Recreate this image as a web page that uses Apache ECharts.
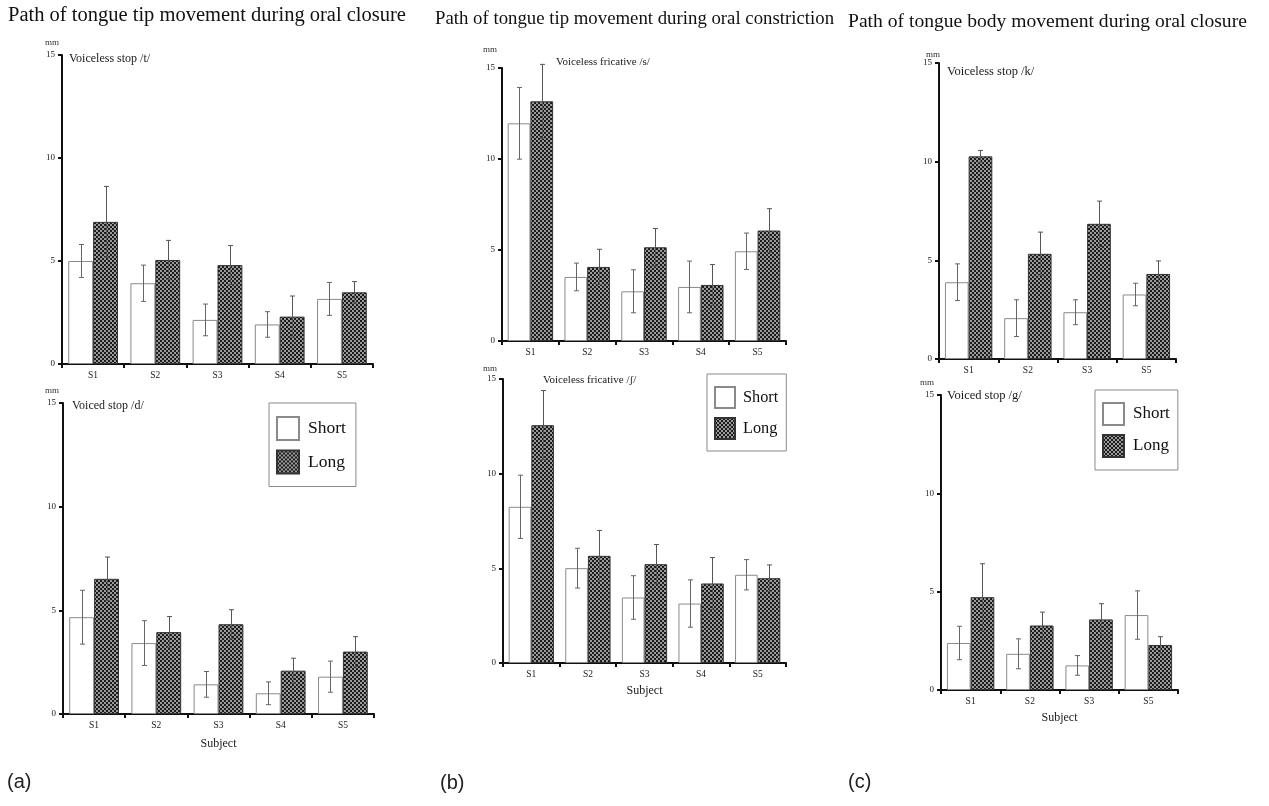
<!DOCTYPE html>
<html><head><meta charset="utf-8">
<script src="https://cdn.jsdelivr.net/npm/echarts@6/dist/echarts.min.js"></script>
<style>html,body{margin:0;padding:0;background:#fff}#c{width:1269px;height:806px}</style>
</head><body><div id="c"></div>
<script>
// ---- categories ----
const subjectsAB = ['S1', 'S2', 'S3', 'S4', 'S5'];
const subjectsC = ['S1', 'S2', 'S3', 'S5'];
const yTicks = [0, 5, 10, 15];

// ---- (a) top: voiceless stop /t/ ----
const tShort = [5.0, 3.92, 2.14, 1.92, 3.16];
const tShortErr = [0.8, 0.88, 0.77, 0.62, 0.8];
const tLong = [6.9, 5.05, 4.8, 2.3, 3.48];
const tLongErr = [1.72, 0.95, 0.95, 1.0, 0.52];
// ---- (a) bottom: voiced stop /d/ ----
const dShort = [4.67, 3.42, 1.43, 1.0, 1.8];
const dShortErr = [1.3, 1.08, 0.62, 0.55, 0.75];
const dLong = [6.52, 3.95, 4.33, 2.09, 3.01];
const dLongErr = [1.05, 0.75, 0.7, 0.6, 0.72];
// ---- (b) top: voiceless fricative /s/ ----
const sShort = [11.96, 3.52, 2.73, 2.97, 4.93];
const sShortErr = [1.97, 0.76, 1.18, 1.42, 1.0];
const sLong = [13.17, 4.07, 5.15, 3.08, 6.07];
const sLongErr = [2.03, 0.97, 1.03, 1.12, 1.2];
// ---- (b) bottom: voiceless fricative /ʃ/ ----
const shShort = [8.25, 5.01, 3.46, 3.14, 4.66];
const shShortErr = [1.67, 1.05, 1.15, 1.25, 0.8];
const shLong = [12.56, 5.66, 5.22, 4.2, 4.48];
const shLongErr = [1.83, 1.34, 1.04, 1.37, 0.7];
// ---- (c) top: voiceless stop /k/ ----
const kShort = [3.89, 2.07, 2.37, 3.27];
const kShortErr = [0.93, 0.93, 0.63, 0.57];
const kLong = [10.27, 5.33, 6.85, 4.31];
const kLongErr = [0.3, 1.1, 1.15, 0.66];
// ---- (c) bottom: voiced stop /g/ ----
const gShort = [2.39, 1.84, 1.25, 3.81];
const gShortErr = [0.85, 0.76, 0.5, 1.23];
const gLong = [4.72, 3.28, 3.59, 2.29];
const gLongErr = [1.7, 0.68, 0.8, 0.42];

const panelTitles = ['Path of tongue tip movement during oral closure',
  'Path of tongue tip movement during oral constriction',
  'Path of tongue body movement during oral closure'];
const subTitles = ['Voiceless stop /t/', 'Voiced stop /d/', 'Voiceless fricative /s/',
  'Voiceless fricative /ʃ/', 'Voiceless stop /k/', 'Voiced stop /g/'];
const panelLetters = ['(a)', '(b)', '(c)'];

const SERIF = 'Liberation Serif, Times New Roman, serif';
const chart = echarts.init(document.getElementById('c'));

// checkered fill for "Long"
const pc = document.createElement('canvas'); pc.width = 4; pc.height = 4;
const px = pc.getContext('2d');
px.fillStyle = '#9a9a9a'; px.fillRect(0, 0, 4, 4);
px.fillStyle = '#1c1c1c'; px.fillRect(0, 0, 2, 2); px.fillRect(2, 2, 2, 2);
const pattern = { image: pc, repeat: 'repeat' };

const panels = [
  { grid: { left: 62, top: 55, width: 311, height: 309 }, cats: subjectsAB, s: tShort, se: tShortErr, l: tLong, le: tLongErr, sub: subTitles[0], subPos: [69, 60], subSize: 12, mm: [52, 43], xName: '' },
  { grid: { left: 63, top: 403, width: 311, height: 311 }, cats: subjectsAB, s: dShort, se: dShortErr, l: dLong, le: dLongErr, sub: subTitles[1], subPos: [72, 407], subSize: 12, mm: [52, 391], xName: 'Subject', gap: 24 },
  { grid: { left: 502, top: 68, width: 284, height: 273 }, cats: subjectsAB, s: sShort, se: sShortErr, l: sLong, le: sLongErr, sub: subTitles[2], subPos: [556, 63], subSize: 11, mm: [490, 50], xName: '' },
  { grid: { left: 503, top: 379, width: 283, height: 284 }, cats: subjectsAB, s: shShort, se: shShortErr, l: shLong, le: shLongErr, sub: subTitles[3], subPos: [543, 381], subSize: 11, mm: [490, 369], xName: 'Subject', gap: 22 },
  { grid: { left: 939, top: 63, width: 237, height: 296 }, cats: subjectsC, s: kShort, se: kShortErr, l: kLong, le: kLongErr, sub: subTitles[4], subPos: [947, 73], subSize: 12.5, mm: [933, 55], xName: '' },
  { grid: { left: 941, top: 395, width: 237, height: 295 }, cats: subjectsC, s: gShort, se: gShortErr, l: gLong, le: gLongErr, sub: subTitles[5], subPos: [947, 397], subSize: 12.5, mm: [927, 383], xName: 'Subject', gap: 22 }
];

function errRender(offset, color) {
  return function (params, api) {
    const i = api.value(0), v = api.value(1), e = api.value(2);
    const c = api.coord([i, v]);
    const bw = api.size([1, 0])[0];
    const x = Math.round(c[0] + offset * bw) + 0.5;
    const yt = api.coord([i, v + e])[1], yb = api.coord([i, v - e])[1];
    const cap = 2.5;
    const style = { stroke: color, lineWidth: 1 };
    return { type: 'group', children: [
      { type: 'line', shape: { x1: x, y1: yt, x2: x, y2: yb }, style },
      { type: 'line', shape: { x1: x - cap, y1: yt, x2: x + cap, y2: yt }, style },
      { type: 'line', shape: { x1: x - cap, y1: yb, x2: x + cap, y2: yb }, style }
    ] };
  };
}

const grids = [], xAxes = [], yAxes = [], series = [], graphics = [];
panels.forEach((p, i) => {
  grids.push(p.grid);
  xAxes.push({
    type: 'category', gridIndex: i, data: p.cats,
    axisLine: { lineStyle: { color: '#111', width: 2 } },
    axisTick: { show: true, length: 4, lineStyle: { color: '#111', width: 2 } },
    axisLabel: { fontSize: 9.5, fontFamily: SERIF, color: '#1a1a1a', margin: 6 },
    name: p.xName, nameLocation: 'middle', nameGap: p.gap || 20,
    nameTextStyle: { fontSize: 12, fontFamily: SERIF, color: '#1a1a1a' }
  });
  yAxes.push({
    type: 'value', gridIndex: i, min: yTicks[0], max: yTicks[yTicks.length - 1], interval: 5,
    axisLine: { show: true, lineStyle: { color: '#111', width: 2 } },
    axisTick: { show: true, length: 4, lineStyle: { color: '#111', width: 2 } },
    splitLine: { show: false },
    axisLabel: { fontSize: 9, fontFamily: SERIF, color: '#1a1a1a', margin: 7 }
  });
  series.push({
    name: 'Short', type: 'bar', xAxisIndex: i, yAxisIndex: i, data: p.s,
    barWidth: '40%', barGap: '0%',
    itemStyle: { color: '#ffffff', borderColor: '#8a8a8a', borderWidth: 1 }, z: 2
  });
  series.push({
    name: 'Long', type: 'bar', xAxisIndex: i, yAxisIndex: i, data: p.l,
    barWidth: '40%', barGap: '0%',
    itemStyle: { color: pattern, borderColor: '#333', borderWidth: 1 }, z: 2
  });
  series.push({
    name: 'Short SD', type: 'custom', xAxisIndex: i, yAxisIndex: i,
    data: p.s.map((v, k) => [k, v, p.se[k]]), encode: { x: 0, y: 1 },
    renderItem: errRender(-0.2, '#666'), z: 5, silent: true
  });
  series.push({
    name: 'Long SD', type: 'custom', xAxisIndex: i, yAxisIndex: i,
    data: p.l.map((v, k) => [k, v, p.le[k]]), encode: { x: 0, y: 1 },
    renderItem: errRender(0.2, '#555'), z: 5, silent: true
  });
  graphics.push({ type: 'text', left: p.subPos[0], top: p.subPos[1] - p.subSize * 0.6,
    style: { text: p.sub, font: p.subSize + 'px ' + SERIF, fill: '#1a1a1a' } });
  graphics.push({ type: 'text', x: p.mm[0], y: p.mm[1],
    style: { text: 'mm', font: '9px ' + SERIF, fill: '#333', textAlign: 'center', textVerticalAlign: 'middle' } });
});

const letterPos = [[7, 782], [440, 783], [848, 782]];
panelLetters.forEach((t, k) => {
  graphics.push({ type: 'text', x: letterPos[k][0], y: letterPos[k][1],
    style: { text: t, font: '20px Liberation Sans, Arial, sans-serif', fill: '#222', textVerticalAlign: 'middle' } });
});

const titleCfg = [[8, 5, 20.5], [435, 10, 18.8], [848, 12, 19.6]];
const titles = panelTitles.map((t, k) => ({
  text: t, left: titleCfg[k][0], top: titleCfg[k][1], padding: 0,
  textStyle: { fontSize: titleCfg[k][2], fontWeight: 'normal', fontFamily: SERIF, color: '#111' }
}));

function legendAt(left, top, iw, ih, gap, pad, fs, tpad) {
  return {
    data: ['Short', 'Long'], orient: 'vertical', left, top, itemWidth: iw, itemHeight: ih, itemGap: gap,
    padding: pad, borderColor: '#8a8a8a', borderWidth: 1, icon: 'rect', selectedMode: false,
    textStyle: { fontSize: fs, fontFamily: SERIF, color: '#111', padding: [0, 0, 0, tpad] }
  };
}

chart.setOption({
  animation: false,
  title: titles,
  grid: grids, xAxis: xAxes, yAxis: yAxes, series,
  legend: [
    legendAt(269, 403, 22, 23, 8.5, [13, 10, 12, 7], 17.5, 4),
    legendAt(707, 374, 20, 21, 8, [12, 8, 11, 7], 16.3, 3),
    legendAt(1095, 390, 21, 22, 8, [12, 8, 12, 7], 17, 4)
  ],
  graphic: graphics
});
</script></body></html>
